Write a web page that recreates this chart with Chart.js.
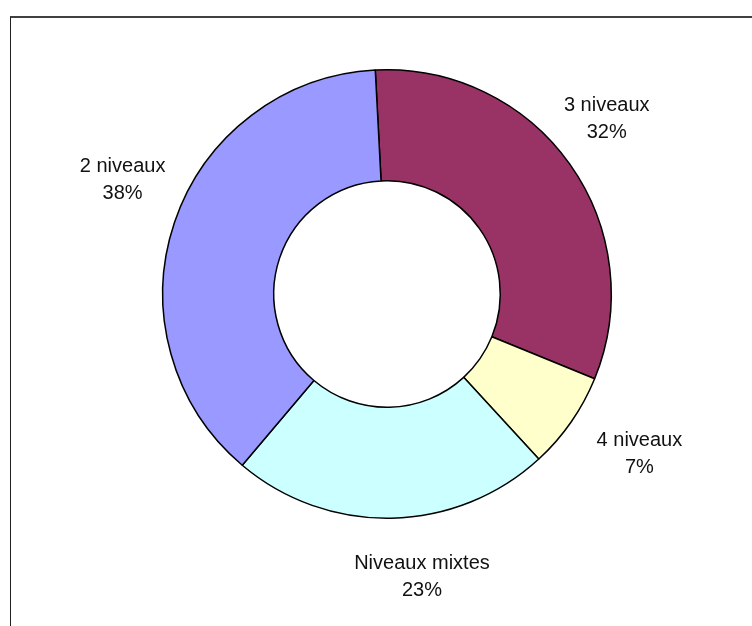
<!DOCTYPE html>
<html>
<head>
<meta charset="utf-8">
<script src="https://cdn.jsdelivr.net/npm/chart.js@4"></script>
<style>
  html, body { margin: 0; padding: 0; background: #ffffff; }
  #wrap { position: relative; width: 752px; height: 626px; overflow: hidden; }
  #frame { position: absolute; left: 10px; top: 16px; width: 800px; height: 700px;
           border-top: 2px solid #404040; border-left: 1px solid #202020; box-sizing: border-box; }
  canvas { position: absolute; left: 0; top: 0; }
</style>
</head>
<body>
<div id="wrap">
  <div id="frame"></div>
  <canvas id="c" width="752" height="626"></canvas>
</div>
<script>
// Data
const categories = ["3 niveaux", "4 niveaux", "Niveaux mixtes", "2 niveaux"];
const shares = [32, 7, 23, 38];
const sliceColors = ["#993366", "#FFFFCC", "#CCFFFF", "#9999FF"];

// Label placement tweaks (pixels) relative to a point beyond the slice middle
const labelGap = 60;
const labelNudge = [[-12, -10], [19, -2], [29, -1], [5, -23]];

const outsideLabels = {
  id: 'outsideLabels',
  afterDraw(chart) {
    const ctx = chart.ctx;
    const meta = chart.getDatasetMeta(0);
    ctx.save();
    ctx.fillStyle = '#111111';
    ctx.font = '20px "Liberation Sans", Arial, sans-serif';
    ctx.textAlign = 'center';
    ctx.textBaseline = 'middle';
    meta.data.forEach((arc, i) => {
      const p = arc.getProps(['x', 'y', 'startAngle', 'endAngle', 'outerRadius'], true);
      const mid = (p.startAngle + p.endAngle) / 2;
      const r = p.outerRadius + labelGap;
      const cx = p.x + Math.cos(mid) * r + labelNudge[i][0];
      const cy = p.y + Math.sin(mid) * r + labelNudge[i][1];
      ctx.fillText(categories[i], cx, cy - 13.5);
      ctx.fillText(shares[i] + '%', cx, cy + 13.5);
    });
    ctx.restore();
  }
};

new Chart(document.getElementById('c'), {
  type: 'doughnut',
  data: {
    labels: categories,
    datasets: [{
      data: shares,
      backgroundColor: sliceColors,
      borderColor: '#000000',
      borderWidth: 1.5,
      hoverOffset: 0,
      offset: 0
    }]
  },
  options: {
    responsive: false,
    animation: false,
    cutout: '50.5%',
    rotation: -3,
    layout: { padding: { top: 69, bottom: 107, left: 100, right: 78 } },
    plugins: {
      legend: { display: false },
      tooltip: { enabled: false }
    }
  },
  plugins: [outsideLabels]
});
</script>
</body>
</html>
